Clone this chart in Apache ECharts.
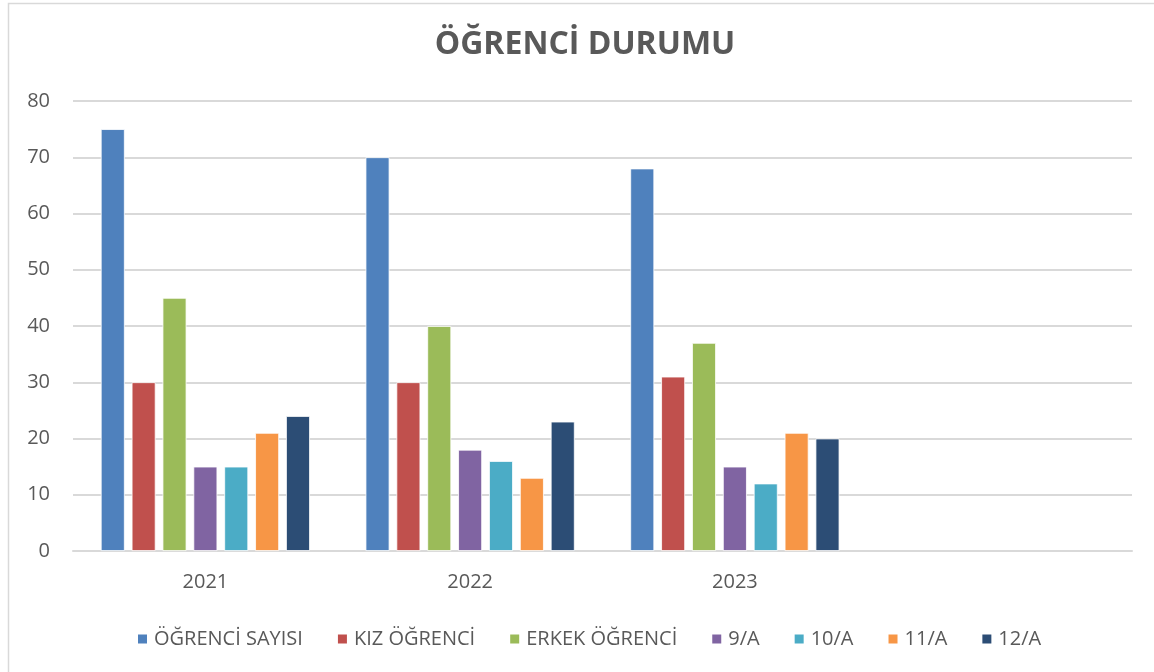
<!DOCTYPE html>
<html>
<head>
<meta charset="utf-8">
<script src="https://cdn.jsdelivr.net/npm/echarts@6/dist/echarts.min.js"></script>
<style>
html,body{margin:0;padding:0;background:#fff;}
#chart{width:1154px;height:672px;}
</style>
</head>
<body>
<div id="chart"></div>
<script>
const categories = ['2021', '2022', '2023', ''];
const seriesNames = ['ÖĞRENCİ SAYISI', 'KIZ ÖĞRENCİ', 'ERKEK ÖĞRENCİ', '9/A', '10/A', '11/A', '12/A'];
const ogrenciSayisi = [75, 70, 68, null];
const kizOgrenci = [30, 30, 31, null];
const erkekOgrenci = [45, 40, 37, null];
const sinif9A = [15, 18, 15, null];
const sinif10A = [15, 16, 12, null];
const sinif11A = [21, 13, 21, null];
const sinif12A = [24, 23, 20, null];
const yTicks = [0, 10, 20, 30, 40, 50, 60, 70, 80];

const colors = ['#4F81BD', '#C0504D', '#9BBB59', '#8064A2', '#4BACC6', '#F79646', '#2C4D75'];
const values = [ogrenciSayisi, kizOgrenci, erkekOgrenci, sinif9A, sinif10A, sinif11A, sinif12A];
const FONT = 'Open Sans';

const chart = echarts.init(document.getElementById('chart'), null, {renderer: 'canvas'});
chart.setOption({
  animation: false,
  color: colors,
  graphic: [{
    type: 'rect',
    shape: {x: 8.5, y: 3.5, width: 1200, height: 720},
    style: {fill: 'none', stroke: '#d9d9d9', lineWidth: 1.5},
    silent: true
  }],
  title: {
    text: 'ÖĞRENCİ DURUMU',
    left: 580, top: 24, textAlign: 'center',
    textStyle: {fontFamily: FONT, fontWeight: 'bold', fontSize: 32, color: '#595959'}
  },
  legend: {
    top: 624,
    left: 131,
    icon: 'rect',
    itemWidth: 11, itemHeight: 11,
    itemGap: 33,
    textStyle: {fontFamily: FONT, fontSize: 20, color: '#595959', padding: [0, 0, 0, 1]},
    data: seriesNames
  },
  grid: {left: 73, right: 22, top: 101, bottom: 121, containLabel: false},
  xAxis: {
    type: 'category',
    data: categories,
    axisTick: {show: false},
    axisLine: {lineStyle: {color: '#d9d9d9', width: 2}},
    axisLabel: {fontFamily: FONT, fontSize: 20, color: '#595959', margin: 21}
  },
  yAxis: {
    type: 'value',
    min: yTicks[0], max: yTicks[yTicks.length - 1], interval: 10,
    axisLine: {show: false},
    axisTick: {show: false},
    splitLine: {lineStyle: {color: '#d9d9d9', width: 2}},
    axisLabel: {fontFamily: FONT, fontSize: 20, color: '#595959', margin: 23}
  },
  series: seriesNames.map((n, i) => ({
    name: n,
    type: 'bar',
    data: values[i],
    barGap: '29%',
    barCategoryGap: '21%',
    itemStyle: {borderColor: '#ffffff', borderWidth: 0.8}
  }))
});
</script>
</body>
</html>
